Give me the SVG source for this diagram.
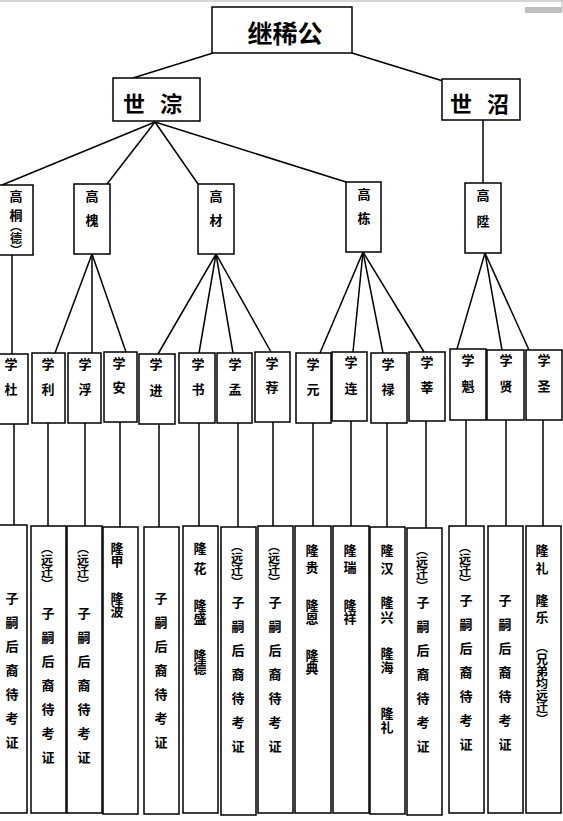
<svg xmlns="http://www.w3.org/2000/svg" width="563" height="821" viewBox="0 0 563 821">
<style>
.bx{fill:#fff;stroke:#000;stroke-width:1.5}
.ln{stroke:#000;stroke-width:1.5;fill:none}
.t{font-family:"Noto Sans CJK SC","Noto Sans CJK TC",sans-serif;font-weight:bold;font-size:13px;text-anchor:middle;dominant-baseline:central;fill:#000}
.v{font-family:"Noto Sans CJK SC","Noto Sans CJK TC",sans-serif;font-weight:bold;font-size:13px;writing-mode:vertical-rl;text-orientation:upright;text-anchor:start;fill:#000}
.s{letter-spacing:11px}
.p{font-size:12px}
.big{font-size:25px}
.mid{font-size:22px;letter-spacing:5px}
</style>
<rect width="563" height="821" fill="#fff"/>
<line x1="0" y1="1" x2="563" y2="1" stroke="#c8c8c8" stroke-width="1.5"/>
<line x1="562" y1="0" x2="562" y2="12" stroke="#bbb" stroke-width="1"/>
<rect x="525" y="7" width="37" height="6" fill="#c0c0c0"/>
<g id="connectors">
<line class="ln" x1="213" y1="53" x2="133" y2="78"/>
<line class="ln" x1="352" y1="53" x2="443" y2="81"/>
<line class="ln" x1="155" y1="122" x2="2" y2="185"/>
<line class="ln" x1="155" y1="122" x2="107" y2="184"/>
<line class="ln" x1="155" y1="122" x2="198" y2="184"/>
<line class="ln" x1="155" y1="122" x2="346" y2="182"/>
<line class="ln" x1="483" y1="120" x2="483" y2="183"/>
<line class="ln" x1="12" y1="255" x2="12" y2="354"/>
<line class="ln" x1="92" y1="254" x2="55" y2="353"/>
<line class="ln" x1="92" y1="254" x2="92" y2="353"/>
<line class="ln" x1="92" y1="254" x2="126" y2="352"/>
<line class="ln" x1="216" y1="254" x2="158" y2="354"/>
<line class="ln" x1="216" y1="254" x2="199" y2="353"/>
<line class="ln" x1="216" y1="254" x2="233" y2="353"/>
<line class="ln" x1="216" y1="254" x2="271" y2="352"/>
<line class="ln" x1="363" y1="252" x2="320" y2="353"/>
<line class="ln" x1="363" y1="252" x2="353" y2="352"/>
<line class="ln" x1="363" y1="252" x2="383" y2="353"/>
<line class="ln" x1="363" y1="252" x2="424" y2="352"/>
<line class="ln" x1="485" y1="253" x2="457" y2="349"/>
<line class="ln" x1="485" y1="253" x2="502" y2="350"/>
<line class="ln" x1="485" y1="253" x2="529" y2="350"/>
<line class="ln" x1="14" y1="424" x2="14" y2="525"/>
<line class="ln" x1="48" y1="423" x2="48" y2="526" stroke="#444"/>
<line class="ln" x1="85" y1="423" x2="85" y2="526"/>
<line class="ln" x1="120" y1="422" x2="120" y2="527"/>
<line class="ln" x1="159" y1="424" x2="159" y2="527"/>
<line class="ln" x1="199" y1="423" x2="199" y2="526"/>
<line class="ln" x1="238" y1="423" x2="238" y2="527"/>
<line class="ln" x1="273" y1="422" x2="273" y2="526"/>
<line class="ln" x1="313" y1="423" x2="313" y2="526"/>
<line class="ln" x1="351" y1="421" x2="351" y2="526"/>
<line class="ln" x1="387" y1="423" x2="387" y2="527"/>
<line class="ln" x1="426" y1="421" x2="426" y2="528"/>
<line class="ln" x1="466" y1="420" x2="466" y2="526"/>
<line class="ln" x1="506" y1="420" x2="506" y2="526"/>
<line class="ln" x1="543" y1="420" x2="543" y2="526"/>
</g>
<g id="n-jixigong"><rect class="bx" x="212" y="7" width="140" height="46"/><text class="t big" x="285" y="32">继稀公</text></g>
<g id="n-shicong"><rect class="bx" x="113" y="78" width="87" height="43"/><text class="t mid" x="155" y="102">世 淙</text></g>
<g id="n-shizhao"><rect class="bx" x="442" y="79" width="78" height="41"/><text class="t mid" x="482" y="102">世 沼</text></g>

<g id="n-gaotong"><rect class="bx" x="-3" y="185" width="36" height="70"/><text class="t"><tspan x="16" y="195">高</tspan><tspan x="16" y="214">桐</tspan></text><text class="v p" x="16" y="220">︵德︶</text></g>
<g id="n-gaohuai"><rect class="bx" x="74" y="184" width="36" height="70"/><text class="t"><tspan x="92" y="195">高</tspan><tspan x="92" y="219">槐</tspan></text></g>
<g id="n-gaocai"><rect class="bx" x="198" y="184" width="36" height="70"/><text class="t"><tspan x="216" y="195">高</tspan><tspan x="216" y="219">材</tspan></text></g>
<g id="n-gaodong"><rect class="bx" x="346" y="182" width="35" height="70"/><text class="t"><tspan x="364" y="193">高</tspan><tspan x="364" y="217">栋</tspan></text></g>
<g id="n-gaosheng"><rect class="bx" x="465" y="183" width="36" height="70"/><text class="t"><tspan x="483" y="194">高</tspan><tspan x="483" y="220">陞</tspan></text></g>

<g id="n-xuedu"><rect class="bx" x="-5" y="354" width="33" height="70"/><text class="t"><tspan x="11" y="363">学</tspan><tspan x="11" y="388">杜</tspan></text></g>
<g id="n-xueli"><rect class="bx" x="32" y="353" width="33" height="70"/><text class="t"><tspan x="48" y="363">学</tspan><tspan x="48" y="388">利</tspan></text></g>
<g id="n-xuefu"><rect class="bx" x="68" y="353" width="33" height="70"/><text class="t"><tspan x="85" y="363">学</tspan><tspan x="85" y="388">浮</tspan></text></g>
<g id="n-xuean"><rect class="bx" x="104" y="352" width="33" height="70"/><text class="t"><tspan x="119" y="362">学</tspan><tspan x="119" y="386">安</tspan></text></g>
<g id="n-xuejin"><rect class="bx" x="139" y="354" width="36" height="70"/><text class="t"><tspan x="156" y="363">学</tspan><tspan x="156" y="389">进</tspan></text></g>
<g id="n-xueshu"><rect class="bx" x="179" y="353" width="36" height="70"/><text class="t"><tspan x="198" y="363">学</tspan><tspan x="198" y="388">书</tspan></text></g>
<g id="n-xuemeng"><rect class="bx" x="217" y="353" width="35" height="70"/><text class="t"><tspan x="235" y="363">学</tspan><tspan x="235" y="388">孟</tspan></text></g>
<g id="n-xuejian"><rect class="bx" x="255" y="352" width="35" height="70"/><text class="t"><tspan x="272" y="362">学</tspan><tspan x="272" y="386">荐</tspan></text></g>
<g id="n-xueyuan"><rect class="bx" x="296" y="353" width="35" height="70"/><text class="t"><tspan x="313" y="363">学</tspan><tspan x="313" y="388">元</tspan></text></g>
<g id="n-xuelian"><rect class="bx" x="332" y="352" width="35" height="69"/><text class="t"><tspan x="351" y="361">学</tspan><tspan x="351" y="387">连</tspan></text></g>
<g id="n-xuelu"><rect class="bx" x="371" y="353" width="36" height="70"/><text class="t"><tspan x="388" y="363">学</tspan><tspan x="388" y="388">禄</tspan></text></g>
<g id="n-xuexin"><rect class="bx" x="409" y="352" width="36" height="69"/><text class="t"><tspan x="427" y="361">学</tspan><tspan x="427" y="386">莘</tspan></text></g>
<g id="n-xuekui"><rect class="bx" x="450" y="349" width="36" height="71"/><text class="t"><tspan x="468" y="359">学</tspan><tspan x="468" y="385">魁</tspan></text></g>
<g id="n-xuexian"><rect class="bx" x="487" y="350" width="37" height="70"/><text class="t"><tspan x="506" y="359">学</tspan><tspan x="506" y="385">贤</tspan></text></g>
<g id="n-xuesheng"><rect class="bx" x="526" y="350" width="36" height="70"/><text class="t"><tspan x="544" y="359">学</tspan><tspan x="544" y="385">圣</tspan></text></g>

<g id="n-d1"><rect class="bx" x="-3" y="525" width="30" height="288"/><text class="v s" x="12" y="591.5">子嗣后裔待考证</text></g>
<g id="n-d2"><rect class="bx" x="31" y="526" width="35" height="287"/><text class="v p" x="47" y="542">︵远迁︶</text><text class="v s" x="48" y="606.5">子嗣后裔待考证</text></g>
<g id="n-d3"><rect class="bx" x="67" y="526" width="35" height="287"/><text class="v p" x="83" y="542">︵远迁︶</text><text class="v s" x="84" y="606.5">子嗣后裔待考证</text></g>
<g id="n-d4"><rect class="bx" x="103" y="527" width="35" height="287"/><text class="v" x="117" y="541.5">隆甲</text><text class="v" x="117" y="591.5">隆波</text></g>
<g id="n-d5"><rect class="bx" x="144" y="527" width="35" height="287"/><text class="v s" x="161" y="591.5">子嗣后裔待考证</text></g>
<g id="n-d6"><rect class="bx" x="183" y="526" width="35" height="287"/><text class="v" x="200" y="541.5" letter-spacing="7">隆花</text><text class="v" x="200" y="598.5">隆盛</text><text class="v" x="200" y="648.5">隆德</text></g>
<g id="n-d7"><rect class="bx" x="221" y="527" width="35" height="288"/><text class="v p" x="237" y="540">︵远迁︶</text><text class="v s" x="238" y="595.5">子嗣后裔待考证</text></g>
<g id="n-d8"><rect class="bx" x="258" y="526" width="35" height="287"/><text class="v p" x="274" y="540">︵远迁︶</text><text class="v s" x="275" y="595.5">子嗣后裔待考证</text></g>
<g id="n-d9"><rect class="bx" x="295" y="526" width="36" height="287"/><text class="v" x="312" y="543.5" letter-spacing="4">隆贵</text><text class="v" x="312" y="598.5">隆恩</text><text class="v" x="312" y="648.5">隆典</text></g>
<g id="n-d10"><rect class="bx" x="333" y="526" width="36" height="287"/><text class="v" x="350" y="543.5" letter-spacing="4">隆瑞</text><text class="v" x="350" y="598.5">隆祥</text></g>
<g id="n-d11"><rect class="bx" x="370" y="527" width="35" height="287"/><text class="v" x="387" y="543.5" letter-spacing="5">隆汉</text><text class="v" x="387" y="595.5" letter-spacing="2">隆兴</text><text class="v" x="387" y="646.5" letter-spacing="1">隆海</text><text class="v" x="387" y="706.5" letter-spacing="1">隆礼</text></g>
<g id="n-d12"><rect class="bx" x="407" y="528" width="35" height="287"/><text class="v p" x="422" y="544">︵远迁︶</text><text class="v s" x="423" y="595.5">子嗣后裔待考证</text></g>
<g id="n-d13"><rect class="bx" x="449" y="526" width="35" height="287"/><text class="v p" x="465" y="541">︵远迁︶</text><text class="v s" x="466" y="593.5">子嗣后裔待考证</text></g>
<g id="n-d14"><rect class="bx" x="488" y="526" width="35" height="287"/><text class="v s" x="505" y="593.5">子嗣后裔待考证</text></g>
<g id="n-d15"><rect class="bx" x="526" y="526" width="35" height="287"/><text class="v" x="542" y="543.5" letter-spacing="5">隆礼</text><text class="v" x="542" y="593.5" letter-spacing="4">隆乐</text><text class="v p" x="542" y="641">︵兄弟均远迁︶</text></g>
</svg>
